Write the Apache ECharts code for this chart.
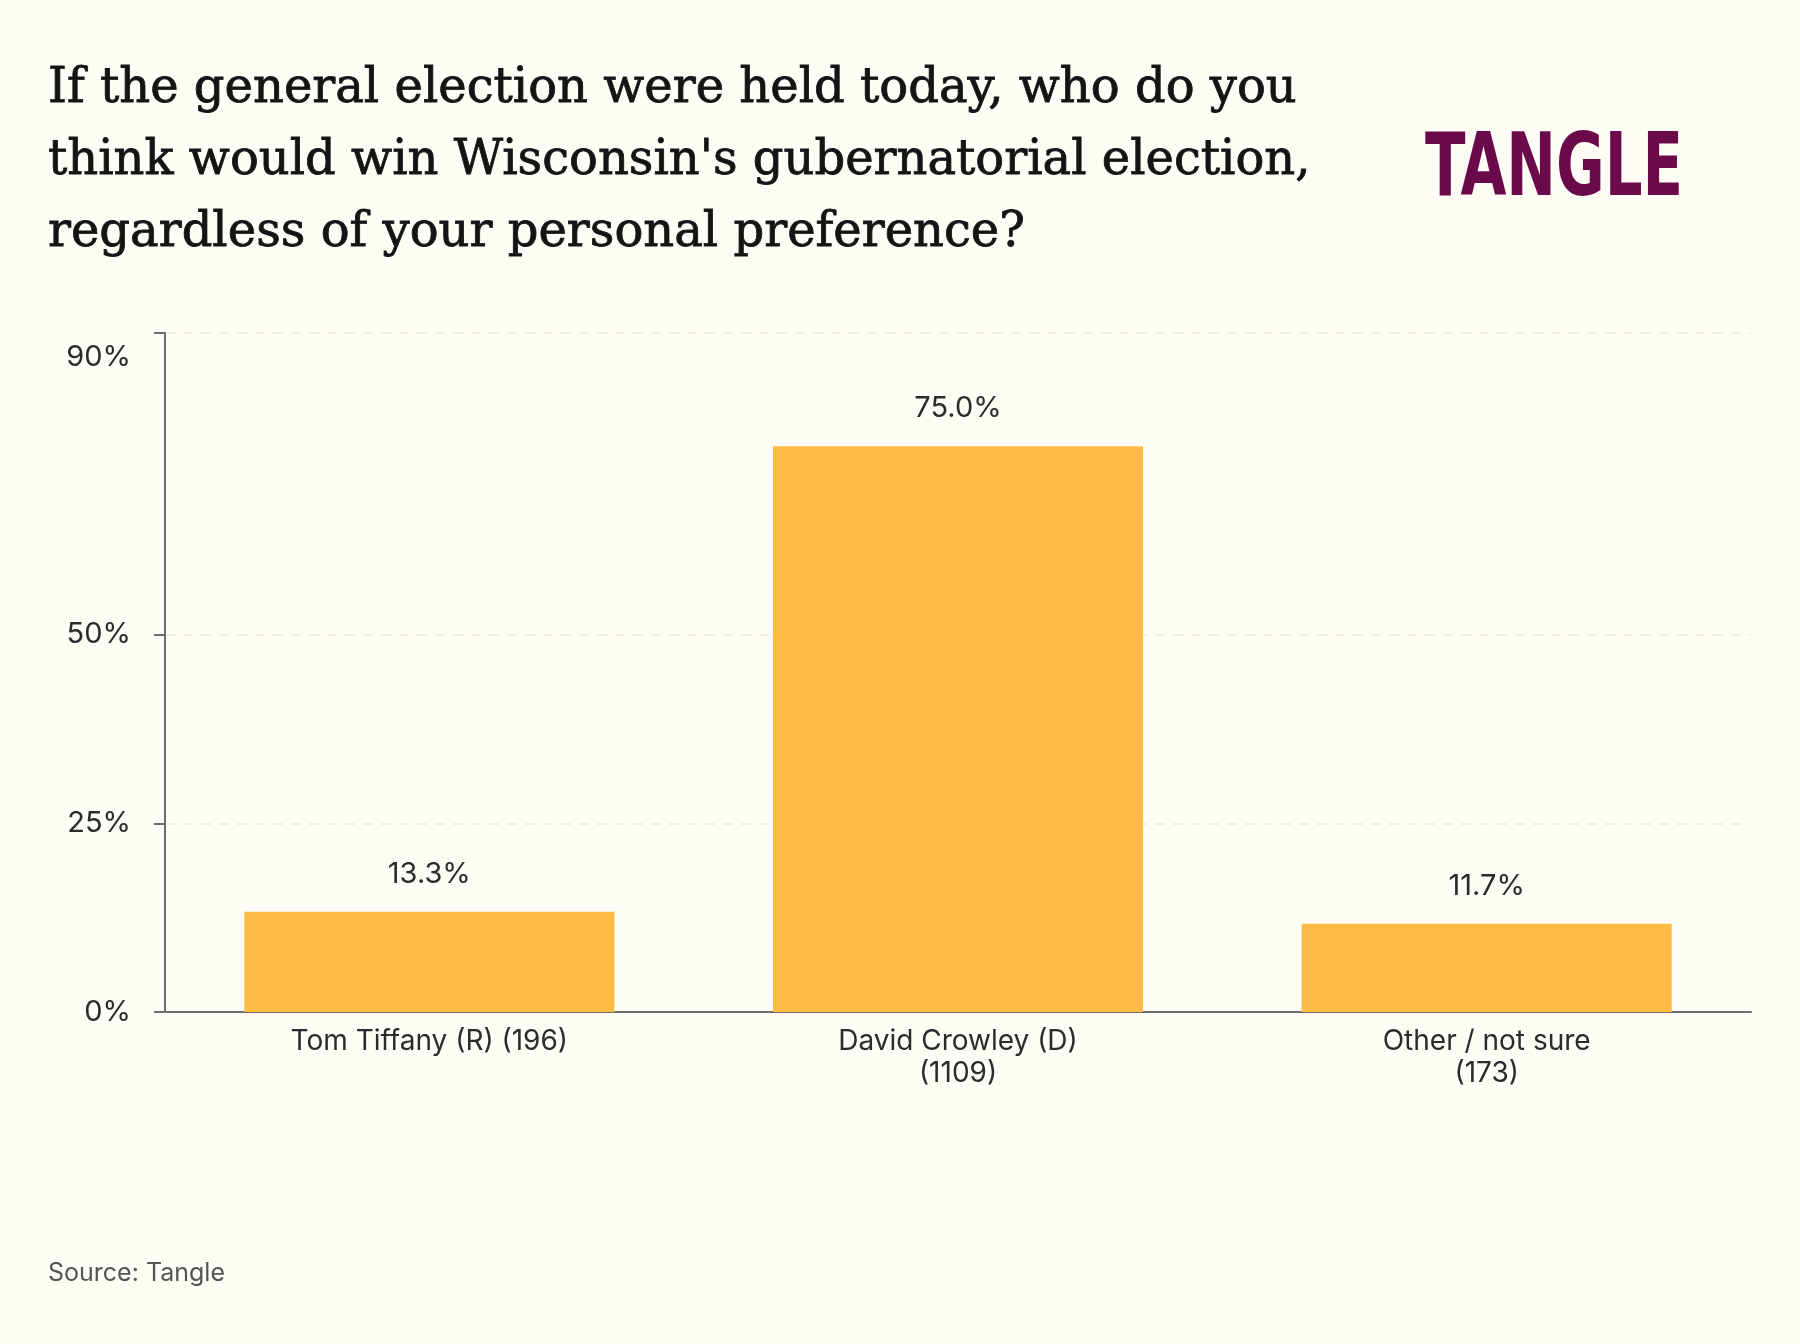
<!DOCTYPE html>
<html>
<head>
<meta charset="utf-8">
<title>Wisconsin gubernatorial election</title>
<script src="https://cdn.jsdelivr.net/npm/echarts@6/dist/echarts.min.js"></script>
<style>
    html, body { margin: 0; padding: 0; background: #fdfcf5; }
    #chart { width: 1800px; height: 1344px; }
</style>
</head>
<body>
<div id="chart"></div>
<script>
// 数据
var categories = ['Tom Tiffany (R) (196)', 'David Crowley (D)\n(1109)', 'Other / not sure\n(173)'];
var shares = [13.3, 75.0, 11.7];
var yTicks = [0, 25, 50, 90];

var titleText = "If the general election were held today, who do you\nthink would win Wisconsin's gubernatorial election,\nregardless of your personal preference?";

var sans = 'Inter, "Noto Sans", sans-serif';
var ink = '#2b2b2b';

var myChart = echarts.init(document.getElementById('chart'));

var option = {
    backgroundColor: '#fdfcf5',
    animation: false,
    title: {
        text: titleText,
        left: 48,
        top: 54,
        padding: 0,
        textStyle: {
            fontFamily: '"DejaVu Serif", serif',
            fontWeight: 'normal',
            fontSize: 48,
            lineHeight: 72,
            color: '#141414',
            textBorderColor: '#141414',
            textBorderWidth: 0.8
        }
    },
    graphic: [{
        // 右上角 logo
        type: 'text',
        left: 1425,
        top: 128,
        style: {
            text: 'TANGLE',
            fontFamily: '"DejaVu Sans Condensed", "DejaVu Sans", sans-serif',
            fontWeight: 'bold',
            fontSize: 88,
            fill: '#6b0a4b'
        },
        scaleX: 0.75
    }, {
        // 来源
        type: 'text',
        left: 48,
        top: 1261,
        style: {
            text: 'Source: Tangle',
            fontFamily: sans,
            fontSize: 25,
            fill: '#555'
        }
    }],
    grid: {
        left: 165,
        right: 49,
        top: 333,
        bottom: 332
    },
    xAxis: {
        type: 'category',
        data: categories,
        axisLine: { lineStyle: { color: '#6e6e6e', width: 2 } },
        axisTick: { alignWithLabel: true, length: 10, lineStyle: { color: '#6e6e6e', width: 2 } },
        axisLabel: {
            color: ink,
            fontFamily: sans,
            fontSize: 28,
            lineHeight: 32,
            margin: 14,
            interval: 0
        }
    },
    yAxis: {
        type: 'value',
        min: 0,
        max: 90,
        axisLine: { show: true, lineStyle: { color: '#6e6e6e', width: 2 } },
        axisTick: {
            show: true,
            length: 11,
            customValues: yTicks,
            lineStyle: { color: '#6e6e6e', width: 2 }
        },
        splitLine: {
            show: true,
            lineStyle: { color: '#ebe9de', type: [10, 8], width: 1.5 }
        },
        axisLabel: {
            customValues: yTicks,
            color: ink,
            fontFamily: sans,
            fontSize: 29,
            margin: 34,
            formatter: function(v) {
                return v === 90 ? '{top|90%}' : v + '%';
            },
            rich: {
                top: {
                    fontFamily: sans,
                    fontSize: 29,
                    color: ink,
                    padding: [48, 0, 0, 0]
                }
            }
        }
    },
    series: [{
        type: 'bar',
        data: shares,
        barWidth: '70%',
        itemStyle: { color: '#ffbb44' },
        label: {
            show: true,
            position: 'top',
            distance: 23,
            color: ink,
            fontFamily: sans,
            fontSize: 29,
            formatter: function(p) {
                return p.value.toFixed(1) + '%';
            }
        }
    }]
};
myChart.setOption(option);
</script>
</body>
</html>
